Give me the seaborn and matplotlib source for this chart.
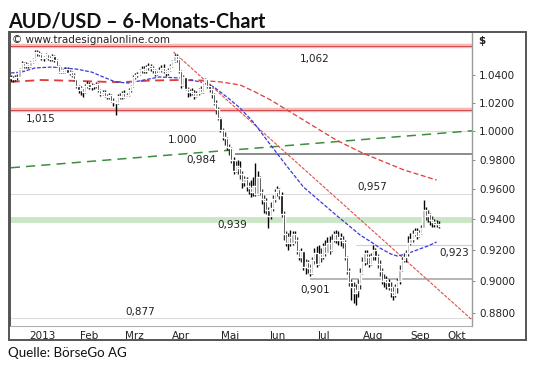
import numpy as np
import pandas as pd
import matplotlib
matplotlib.use("Agg")
import matplotlib.pyplot as plt
from matplotlib.patches import Rectangle
from matplotlib.ticker import FixedLocator, FixedFormatter, NullFormatter, NullLocator
import seaborn as sns

# ---------------  Data  ------------
# daily AUD/USD candles, one value per trading day starting 26.12.2012
close = [1.0380, 1.0375, 1.0385, 1.0390,
         1.0445, 1.0490, 1.0470, 1.0480, 1.0470, 1.0495, 1.0520, 1.0575, 1.0565, 1.0555, 1.0525, 1.0535,
         1.0555, 1.0525, 1.0520, 1.0540, 1.0515, 1.0470, 1.0425, 1.0440, 1.0425, 1.0450, 1.0420,
         1.0425, 1.0405, 1.0370, 1.0320, 1.0290, 1.0305, 1.0280, 1.0320, 1.0340, 1.0315, 1.0330, 1.0320,
         1.0340, 1.0295, 1.0265, 1.0280, 1.0250, 1.0240, 1.0260, 1.0215,
         1.0210, 1.0200, 1.0250, 1.0245, 1.0275, 1.0245, 1.0260, 1.0290, 1.0320, 1.0390, 1.0400, 1.0410,
         1.0440, 1.0450, 1.0430, 1.0460, 1.0470, 1.0455, 1.0440, 1.0410, 1.0420,
         1.0440, 1.0455, 1.0430, 1.0415, 1.0440, 1.0470, 1.0505, 1.0540, 1.0520, 1.0430, 1.0330, 1.0385,
         1.0300, 1.0280, 1.0285, 1.0270, 1.0250, 1.0275, 1.0300, 1.0280, 1.0350, 1.0370,
         1.0320, 1.0300, 1.0265, 1.0200, 1.0160, 1.0095, 1.0010, 0.9960, 0.9950, 0.9890, 0.9880, 0.9800,
         0.9720, 0.9760, 0.9740, 0.9700, 0.9650, 0.9665, 0.9620, 0.9610, 0.9580, 0.9620, 0.9570,
         0.9680, 0.9580, 0.9530, 0.9520, 0.9460, 0.9420, 0.9470, 0.9530, 0.9580, 0.9600, 0.9560, 0.9430,
         0.9300, 0.9240, 0.9280, 0.9240, 0.9300, 0.9260, 0.9190, 0.9150,
         0.9190, 0.9090, 0.9120, 0.9080, 0.9050, 0.9130, 0.9180, 0.9110, 0.9170, 0.9150, 0.9220, 0.9180,
         0.9240, 0.9200, 0.9260, 0.9300, 0.9260, 0.9280, 0.9260, 0.9250, 0.9150, 0.9060, 0.8990,
         0.8960, 0.8920, 0.8940, 0.8980, 0.9050, 0.9120, 0.9180, 0.9150, 0.9110, 0.9160, 0.9200, 0.9160,
         0.9110, 0.9060, 0.9000, 0.9010, 0.8990, 0.8960, 0.8930, 0.8910, 0.8960, 0.9000,
         0.9070, 0.9130, 0.9150, 0.9180, 0.9240, 0.9270, 0.9300, 0.9320, 0.9290, 0.9310, 0.9340, 0.9460,
         0.9420, 0.9430, 0.9390, 0.9380, 0.9365, 0.9370, 0.9355]
high = [1.0400, 1.0395, 1.0400, 1.0410,
        1.0455, 1.0505, 1.0500, 1.0495, 1.0490, 1.0505, 1.0530, 1.0590, 1.0585, 1.0580, 1.0565, 1.0545,
        1.0565, 1.0560, 1.0540, 1.0555, 1.0550, 1.0520, 1.0475, 1.0450, 1.0450, 1.0460, 1.0460,
        1.0440, 1.0430, 1.0415, 1.0375, 1.0330, 1.0320, 1.0310, 1.0335, 1.0355, 1.0350, 1.0345, 1.0340,
        1.0350, 1.0345, 1.0300, 1.0295, 1.0290, 1.0265, 1.0275, 1.0265,
        1.0235, 1.0215, 1.0265, 1.0270, 1.0285, 1.0295, 1.0275, 1.0305, 1.0330, 1.0400, 1.0420, 1.0425,
        1.0450, 1.0470, 1.0465, 1.0475, 1.0490, 1.0480, 1.0470, 1.0450, 1.0430,
        1.0460, 1.0475, 1.0480, 1.0440, 1.0455, 1.0480, 1.0515, 1.0555, 1.0560, 1.0525, 1.0440, 1.0400,
        1.0390, 1.0315, 1.0300, 1.0310, 1.0290, 1.0285, 1.0310, 1.0320, 1.0360, 1.0380,
        1.0375, 1.0335, 1.0310, 1.0270, 1.0220, 1.0170, 1.0100, 1.0025, 0.9995, 0.9960, 0.9910, 0.9890,
        0.9820, 0.9790, 0.9800, 0.9790, 0.9720, 0.9690, 0.9680, 0.9650, 0.9660, 0.9680, 0.9780,
        0.9720, 0.9690, 0.9600, 0.9560, 0.9540, 0.9480, 0.9510, 0.9560, 0.9600, 0.9620, 0.9610, 0.9580,
        0.9450, 0.9320, 0.9310, 0.9330, 0.9320, 0.9320, 0.9280, 0.9200,
        0.9210, 0.9190, 0.9140, 0.9130, 0.9110, 0.9150, 0.9210, 0.9220, 0.9230, 0.9210, 0.9240, 0.9260,
        0.9280, 0.9290, 0.9300, 0.9320, 0.9330, 0.9320, 0.9310, 0.9290, 0.9260, 0.9160, 0.9080,
        0.9010, 0.8990, 0.8980, 0.9010, 0.9080, 0.9150, 0.9200, 0.9200, 0.9170, 0.9180, 0.9230, 0.9210,
        0.9170, 0.9130, 0.9080, 0.9040, 0.9030, 0.9010, 0.8990, 0.8960, 0.8980, 0.9020,
        0.9100, 0.9150, 0.9180, 0.9200, 0.9290, 0.9310, 0.9330, 0.9340, 0.9340, 0.9330, 0.9360, 0.9525,
        0.9480, 0.9460, 0.9440, 0.9420, 0.9400, 0.9395, 0.9385]
low = [1.0355, 1.0350, 1.0360, 1.0365,
       1.0385, 1.0440, 1.0455, 1.0455, 1.0455, 1.0460, 1.0490, 1.0510, 1.0545, 1.0540, 1.0515, 1.0505,
       1.0525, 1.0515, 1.0505, 1.0505, 1.0500, 1.0460, 1.0420, 1.0415, 1.0415, 1.0420, 1.0415,
       1.0400, 1.0390, 1.0355, 1.0305, 1.0270, 1.0260, 1.0240, 1.0275, 1.0310, 1.0300, 1.0295, 1.0300,
       1.0305, 1.0280, 1.0250, 1.0255, 1.0240, 1.0225, 1.0225, 1.0205,
       1.0180, 1.0115, 1.0190, 1.0225, 1.0230, 1.0235, 1.0240, 1.0250, 1.0280, 1.0315, 1.0375, 1.0385,
       1.0400, 1.0420, 1.0415, 1.0420, 1.0440, 1.0430, 1.0420, 1.0395, 1.0400,
       1.0415, 1.0425, 1.0415, 1.0395, 1.0400, 1.0430, 1.0460, 1.0495, 1.0500, 1.0420, 1.0310, 1.0320,
       1.0290, 1.0240, 1.0250, 1.0255, 1.0225, 1.0240, 1.0260, 1.0270, 1.0275, 1.0335,
       1.0305, 1.0280, 1.0235, 1.0185, 1.0120, 1.0080, 0.9990, 0.9940, 0.9905, 0.9870, 0.9830, 0.9780,
       0.9700, 0.9715, 0.9700, 0.9670, 0.9610, 0.9620, 0.9590, 0.9570, 0.9545, 0.9550, 0.9550,
       0.9560, 0.9560, 0.9500, 0.9440, 0.9430, 0.9340, 0.9400, 0.9450, 0.9510, 0.9550, 0.9530, 0.9410,
       0.9260, 0.9220, 0.9200, 0.9220, 0.9230, 0.9240, 0.9170, 0.9130,
       0.9120, 0.9070, 0.9040, 0.9050, 0.9030, 0.9040, 0.9110, 0.9090, 0.9100, 0.9120, 0.9140, 0.9160,
       0.9180, 0.9170, 0.9190, 0.9250, 0.9240, 0.9230, 0.9220, 0.9210, 0.9130, 0.9040, 0.8970,
       0.8880, 0.8860, 0.8850, 0.8900, 0.8950, 0.9040, 0.9100, 0.9110, 0.9090, 0.9100, 0.9130, 0.9130,
       0.9080, 0.9030, 0.8980, 0.8960, 0.8950, 0.8940, 0.8900, 0.8880, 0.8900, 0.8920,
       0.8980, 0.9060, 0.9120, 0.9120, 0.9160, 0.9230, 0.9250, 0.9290, 0.9270, 0.9280, 0.9300, 0.9340,
       0.9390, 0.9380, 0.9360, 0.9350, 0.9350, 0.9345, 0.9340]
first_open = 1.0385

# moving averages (trading-day index, value)
ma_blue_idx = [0, 5, 11, 19, 23, 30, 37, 42, 48, 54, 61, 68, 78, 87, 93, 99, 105, 111, 119, 126,
               134, 142, 150, 155, 160, 165, 169, 174, 177, 181, 186, 191, 195]
ma_blue_val = [1.0417, 1.0424, 1.0454, 1.0461, 1.0454, 1.0446, 1.0424, 1.0390, 1.0351, 1.0344, 1.0366,
               1.0388, 1.0380, 1.0351, 1.0315, 1.0242, 1.0163, 1.0064, 0.9902, 0.9764, 0.9614, 0.9513,
               0.9413, 0.9354, 0.9294, 0.9249, 0.9210, 0.9171, 0.9158, 0.9171, 0.9197, 0.9223, 0.9249]
ma_red_idx = [0, 14, 31, 46, 54, 64, 78, 88, 96, 105, 112, 119, 134, 149, 161, 180, 195]
ma_red_val = [1.0352, 1.0366, 1.0359, 1.0351, 1.0353, 1.0362, 1.0366, 1.0362, 1.0352, 1.0330, 1.0278,
              1.0221, 1.0078, 0.9937, 0.9847, 0.9730, 0.9661]

# trend lines (start / end)
green_trend_idx = [0, 211.2]
green_trend_val = [0.9745, 1.0002]
red_trend_idx = [74.5, 211.2]
red_trend_val = [1.0572, 0.8756]

# support / resistance levels
level_values = [1.062, 1.015, 1.000, 0.984, 0.957, 0.939, 0.923, 0.901, 0.877]
level_labels = ["1,062", "1,015", "1.000", "0,984", "0,957", "0,939", "0,923", "0,901", "0,877"]

price_ticks = [0.88, 0.90, 0.92, 0.94, 0.96, 0.98, 1.00, 1.02, 1.04]
month_labels = ["2013", "Feb", "Mrz", "Apr", "Mai", "Jun", "Jul", "Aug", "Sep", "Okt"]

# ---------------  Set up the data frame  ------------
df = pd.DataFrame({"date": pd.bdate_range("2012-12-26", periods=len(close)),
                   "close": close, "high": high, "low": low})
df["i"] = np.arange(len(df))
df["open"] = df["close"].shift(1).fillna(first_open)
up = df["close"] >= df["open"]

cal = pd.Series(pd.bdate_range("2012-12-26", "2013-10-31"))
month_start = cal.index[cal.dt.month != cal.dt.month.shift(1)].tolist()[1:]
X_MAX = 211.2
label_pos = [(a + b) / 2 - 1 for a, b in zip(month_start, month_start[1:] + [X_MAX])]

# ---------------  Plot  ------------
sns.set_style("white")
plt.rcParams["font.family"] = ["DejaVu Sans"]

fig = plt.figure(figsize=(5.4, 3.69), dpi=100)
W, H = 540, 369
ax = fig.add_axes([9.5 / W, 1 - 326 / H, (472 - 9.5) / W, (326 - 32) / H])
ax.set_yscale("log")

# horizontal levels
lv = dict(zip(level_labels, level_values))
for key in ["1,062", "1,015"]:
    ax.hlines(lv[key], -1, X_MAX, color="#f3b9b9", lw=3.2, zorder=1)
    ax.hlines(lv[key], -1, X_MAX, color="#d24a4a", lw=0.7, zorder=1)
ax.hlines(lv["0,939"], -1, X_MAX, color="#cbe6c6", lw=4.2, zorder=1)
for key in ["1.000", "0,957", "0,877"]:
    ax.hlines(lv[key], -1, X_MAX, color="#dcdcdc", lw=0.8, zorder=1)
ax.hlines(lv["0,923"], 158, X_MAX, color="#d0d0d0", lw=0.8, zorder=1)
ax.hlines(lv["0,984"], 102.8, X_MAX, color="#8a8a8a", lw=1.4, zorder=1)
ax.hlines(lv["0,901"], 137, X_MAX, color="#b4b4b4", lw=1.4, zorder=1)

# level labels: (index position, offset in points)
label_place = {"1,062": (139, -9.7), "1,015": (13.6, -6.2), "1.000": (78.6, -6.7),
               "0,984": (87.3, -4.3), "0,957": (165.5, 4.7), "0,939": (101.5, -3.6),
               "0,923": (203, -6.0), "0,901": (139.5, -7.9), "0,877": (59.4, 4.3)}
for key, val in zip(level_labels, level_values):
    xi, dy = label_place[key]
    ax.annotate(key, xy=(xi, val), xytext=(0, dy), textcoords="offset points",
                ha="center", va="center", fontsize=7.5, color="#222222", zorder=6)

# trend lines
sns.lineplot(x=green_trend_idx, y=green_trend_val, ax=ax, color="#3e8e3e", lw=1.1,
             linestyle=(0, (6, 4)), zorder=2)
sns.lineplot(x=red_trend_idx, y=red_trend_val, ax=ax, color="#e05050", lw=0.8,
             linestyle=(0, (3, 1.2)), zorder=2)

# moving averages
red_df = pd.DataFrame({"i": ma_red_idx, "v": ma_red_val})
sns.lineplot(data=red_df[red_df["i"] <= 88], x="i", y="v", ax=ax, color="#e03a3a", lw=1.3,
             linestyle=(0, (5, 3)), zorder=2)
sns.lineplot(data=red_df[red_df["i"] >= 88], x="i", y="v", ax=ax, color="#e03a3a", lw=0.9,
             linestyle=(0, (4, 2)), zorder=2)
sns.lineplot(x=ma_blue_idx, y=ma_blue_val, ax=ax, color="#3a3ad8", lw=0.9,
             linestyle=(0, (3, 1.3)), zorder=2)

# candles
ax.vlines(df["i"], df["low"], df["high"], color="black", lw=1.0, zorder=3)
ax.bar(df["i"], (df["close"] - df["open"]).abs(), bottom=df[["open", "close"]].min(axis=1),
       width=1.0, color=np.where(up, "#b0b0b0", "black"), zorder=4)

# axes
ax.set_xlim(-0.6, X_MAX)
ax.set_ylim(0.8718, 1.0722)
ax.yaxis.tick_right()
ax.yaxis.set_major_locator(FixedLocator(price_ticks))
ax.yaxis.set_major_formatter(FixedFormatter([f"{t:.4f}" for t in price_ticks]))
ax.yaxis.set_minor_locator(NullLocator())
ax.tick_params(axis="y", which="major", direction="out", length=2, width=0.7, color="#888888",
               pad=3, labelsize=7.5, labelcolor="#222222")
ax.xaxis.set_major_locator(FixedLocator(month_start))
ax.xaxis.set_major_formatter(NullFormatter())
ax.xaxis.set_minor_locator(FixedLocator(label_pos))
ax.xaxis.set_minor_formatter(FixedFormatter(month_labels))
ax.tick_params(axis="x", which="major", direction="out", length=2, width=0.8, color="#888888")
ax.tick_params(axis="x", which="minor", length=0, pad=3.5, labelsize=7.5, labelcolor="#222222")
ax.set_xlabel("")
ax.set_ylabel("")
for side, col, w in [("left", "#555555", 1.4), ("top", "#555555", 1.4),
                     ("right", "#9a9a9a", 1.0), ("bottom", "#b0b0b0", 0.8)]:
    ax.spines[side].set_color(col)
    ax.spines[side].set_linewidth(w)
ax.text(2.5 / 462.5, 1 - 8 / 294, "\u00a9 www.tradesignalonline.com", transform=ax.transAxes,
        ha="left", va="center", fontsize=7.5, color="#222222")

# outer frame, titles
fig.patches.append(Rectangle((8.5 / W, 1 - 340 / H), (526 - 8.5) / W, (340 - 32) / H,
                             transform=fig.transFigure, fill=False, edgecolor="#555555", lw=1.4))
fig.text(478 / W, 1 - 41 / H, "$", ha="left", va="center", fontsize=7.5, fontweight="bold",
         color="#222222")
fig.text(8 / W, 1 - 27 / H, "AUD/USD \u2013 6-Monats-Chart", ha="left", va="baseline",
         fontsize=14.2, fontweight="bold", family=["Lato", "DejaVu Sans"], color="#111111")
fig.text(8 / W, 1 - 357 / H, "Quelle: BörseGo AG", ha="left", va="baseline",
         fontsize=9.6, family=["Lato", "DejaVu Sans"], color="#111111")

fig.savefig("out.png", dpi=100)
